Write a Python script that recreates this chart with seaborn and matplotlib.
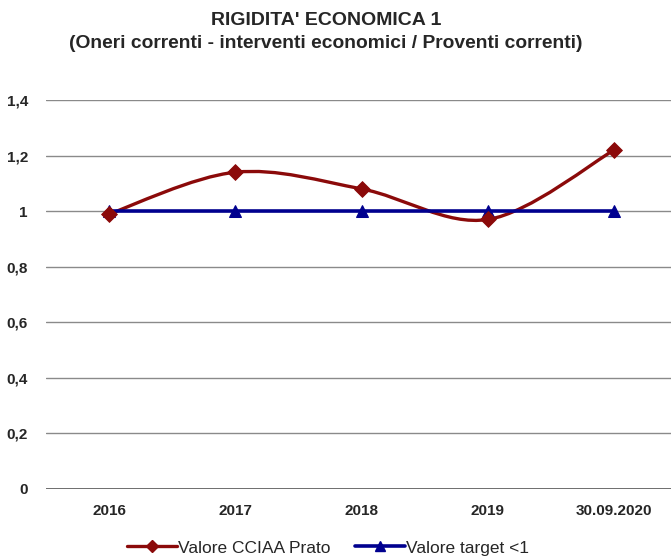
import numpy as np
import pandas as pd
import matplotlib
matplotlib.use('Agg')
import matplotlib.pyplot as plt
import seaborn as sns
from matplotlib.path import Path
from matplotlib.patches import PathPatch
from matplotlib.lines import Line2D

# chart data
periods = ['2016', '2017', '2018', '2019', '30.09.2020']
valore_cciaa = [0.99, 1.14, 1.08, 0.97, 1.22]
valore_target = [1, 1, 1, 1, 1]
y_ticks = [0, 0.2, 0.4, 0.6, 0.8, 1, 1.2, 1.4]
y_tick_labels = ['0', '0,2', '0,4', '0,6', '0,8', '1', '1,2', '1,4']

red = '#8B0A0A'
blue = '#00008F'

sns.set_style('white')
plt.rcParams['font.family'] = ['Liberation Sans', 'DejaVu Sans']

df = pd.DataFrame({'pos': range(len(periods)), 'periodo': periods,
                   'cciaa': valore_cciaa, 'target': valore_target})

fig = plt.figure(figsize=(6.71, 5.58), dpi=100)
ax = fig.add_axes([0.0686, 0.1237, 0.9314, 0.6971])

# grid lines
for t in y_ticks[1:]:
    ax.axhline(t, color='#8a8a8a', lw=1.0, zorder=0)
ax.axhline(0, color='#555555', lw=1.2, zorder=0)

# smoothed curve for CCIAA value (bezier segments, Excel-like smoothing)
xs = df['pos'].to_numpy(dtype=float)
ys = df['cciaa'].to_numpy(dtype=float)
pts = np.column_stack([xs, ys])
verts = [pts[0]]
codes = [Path.MOVETO]
n = len(pts)
for i in range(n - 1):
    p0 = pts[i - 1] if i > 0 else pts[i]
    p1 = pts[i]
    p2 = pts[i + 1]
    p3 = pts[i + 2] if i + 2 < n else pts[i + 1]
    c1 = p1 + (p2 - p0) / 6
    c2 = p2 - (p3 - p1) / 6
    verts += [c1, c2, p2]
    codes += [Path.CURVE4] * 3
ax.add_patch(PathPatch(Path(verts, codes), facecolor='none', edgecolor=red,
                       lw=2.4, zorder=3))

# target line
sns.lineplot(data=df, x='pos', y='target', color=blue, lw=2.6, marker='^',
             markersize=9, markeredgecolor=blue, ax=ax, zorder=4)
# CCIAA markers
sns.scatterplot(data=df, x='pos', y='cciaa', color=red, marker='D', s=65,
                edgecolor=red, ax=ax, zorder=5)

ax.set_xlim(-0.5, 4.45)
ax.set_ylim(0, 1.4)
ax.set_xticks(df['pos'])
ax.set_xticklabels(periods, fontsize=11, fontweight='bold')
ax.set_yticks(y_ticks)
ax.set_yticklabels(y_tick_labels, fontsize=11, fontweight='bold')
ax.tick_params(axis='y', length=0, pad=13)
ax.tick_params(axis='x', length=0, pad=11)
ax.set_xlabel('')
ax.set_ylabel('')
for s in ax.spines.values():
    s.set_visible(False)

fig.text(0.486, 0.963, "RIGIDITA' ECONOMICA 1", ha='center', va='center',
         fontsize=14, fontweight='bold')
fig.text(0.485, 0.922, '(Oneri correnti - interventi economici / Proventi correnti)',
         ha='center', va='center', fontsize=13.9, fontweight='bold')

handles = [Line2D([], [], color=red, lw=2.4, marker='D', markersize=6),
           Line2D([], [], color=blue, lw=2.6, marker='^', markersize=7)]
fig.legend(handles, ['Valore CCIAA Prato', 'Valore target <1'], loc='center',
           bbox_to_anchor=(0.489, 0.018), ncol=2, frameon=False, fontsize=12.5,
           handlelength=2.85, handletextpad=0.05, columnspacing=1.45)

fig.savefig('out.png', dpi=100)
